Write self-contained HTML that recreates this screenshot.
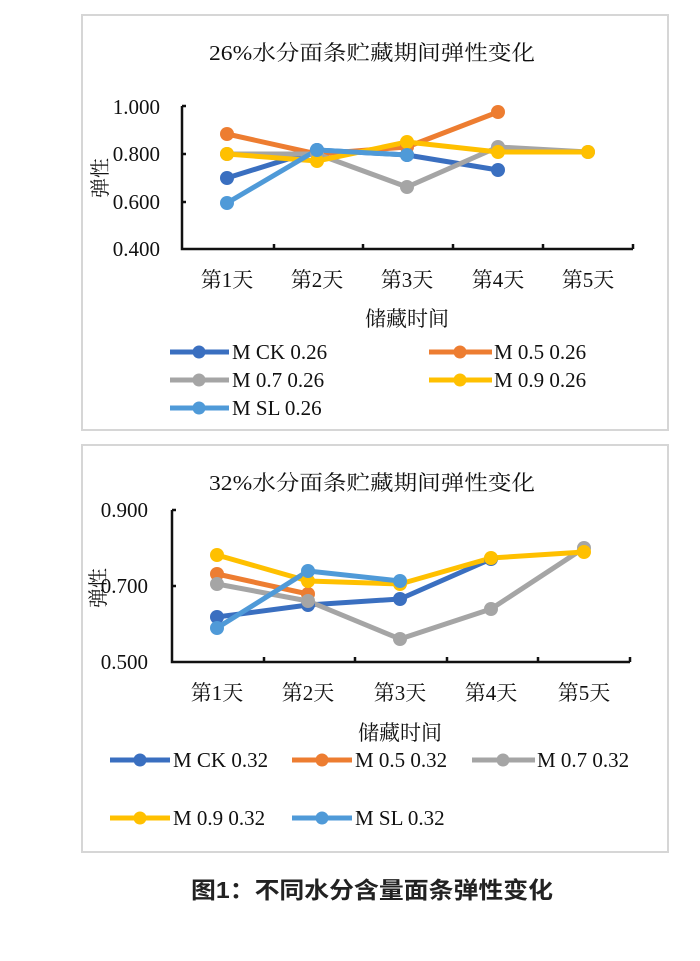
<!DOCTYPE html>
<html><head><meta charset="utf-8"><style>
html,body{margin:0;padding:0;background:#fff;}
svg{display:block}
.t{font-family:"Liberation Serif","Noto Serif CJK SC",serif;fill:#111}
</style></head><body>
<svg width="700" height="961" viewBox="0 0 700 961" xmlns="http://www.w3.org/2000/svg">
<rect x="82" y="15" width="586" height="415" fill="#fff" stroke="#d6d6d6" stroke-width="2"/>
<rect x="82" y="445" width="586" height="407" fill="#fff" stroke="#d6d6d6" stroke-width="2"/>

<!-- Chart 1 -->
<text class="t" x="372" y="60" font-size="21" text-anchor="middle" textLength="326" lengthAdjust="spacingAndGlyphs">26%水分面条贮藏期间弹性变化</text>
<g class="t" font-size="21" text-anchor="end">
<text x="160" y="114">1.000</text><text x="160" y="161">0.800</text><text x="160" y="209">0.600</text><text x="160" y="256">0.400</text>
</g>
<text class="t" font-size="20" transform="translate(107,178) rotate(-90)" text-anchor="middle">弹性</text>
<g stroke="#111" stroke-width="2.5" fill="none">
<path d="M182 106V249H633"/>
<path d="M182 106h4M182 154h4M182 202h4M274 249v-5M363 249v-5M453 249v-5M543 249v-5M633 249v-5"/>
</g>
<g class="t" font-size="21" text-anchor="middle">
<text x="227" y="287">第1天</text><text x="317" y="287">第2天</text><text x="407" y="287">第3天</text><text x="498" y="287">第4天</text><text x="588" y="287">第5天</text>
<text x="407" y="326">储藏时间</text>
</g>
<g stroke-width="5" fill="none" stroke-linejoin="round">
<path d="M227 178L317 150L407 155L498 170" stroke="#3a6fc0"/>
<path d="M227 134L317 154L407 147L498 112" stroke="#ed7d31"/>
<path d="M227 154L317 154L407 187L498 147L588 152" stroke="#a5a5a5"/>
<path d="M227 154L317 161L407 142L498 152L588 152" stroke="#ffc000"/>
<path d="M227 203L317 150L407 155" stroke="#4f9ad8"/>
</g>
<g>
<g fill="#3a6fc0"><circle cx="227" cy="178" r="7"/><circle cx="317" cy="150" r="7"/><circle cx="407" cy="155" r="7"/><circle cx="498" cy="170" r="7"/></g>
<g fill="#ed7d31"><circle cx="227" cy="134" r="7"/><circle cx="317" cy="154" r="7"/><circle cx="407" cy="147" r="7"/><circle cx="498" cy="112" r="7"/></g>
<g fill="#a5a5a5"><circle cx="227" cy="154" r="7"/><circle cx="317" cy="154" r="7"/><circle cx="407" cy="187" r="7"/><circle cx="498" cy="147" r="7"/><circle cx="588" cy="152" r="7"/></g>
<g fill="#ffc000"><circle cx="227" cy="154" r="7"/><circle cx="317" cy="161" r="7"/><circle cx="407" cy="142" r="7"/><circle cx="498" cy="152" r="7"/><circle cx="588" cy="152" r="7"/></g>
<g fill="#4f9ad8"><circle cx="227" cy="203" r="7"/><circle cx="317" cy="150" r="7"/><circle cx="407" cy="155" r="7"/></g>
</g>
<!-- legend 1 -->
<g stroke-width="5">
<line x1="170" y1="352" x2="229" y2="352" stroke="#3a6fc0"/><circle cx="199" cy="352" r="6.5" fill="#3a6fc0"/>
<line x1="429" y1="352" x2="492" y2="352" stroke="#ed7d31"/><circle cx="460" cy="352" r="6.5" fill="#ed7d31"/>
<line x1="170" y1="380" x2="229" y2="380" stroke="#a5a5a5"/><circle cx="199" cy="380" r="6.5" fill="#a5a5a5"/>
<line x1="429" y1="380" x2="492" y2="380" stroke="#ffc000"/><circle cx="460" cy="380" r="6.5" fill="#ffc000"/>
<line x1="170" y1="408" x2="229" y2="408" stroke="#4f9ad8"/><circle cx="199" cy="408" r="6.5" fill="#4f9ad8"/>
</g>
<g class="t" font-size="21">
<text x="232" y="359">M CK 0.26</text><text x="494" y="359">M 0.5 0.26</text>
<text x="232" y="387">M 0.7 0.26</text><text x="494" y="387">M 0.9 0.26</text>
<text x="232" y="415">M SL 0.26</text>
</g>

<!-- Chart 2 -->
<text class="t" x="372" y="490" font-size="21" text-anchor="middle" textLength="326" lengthAdjust="spacingAndGlyphs">32%水分面条贮藏期间弹性变化</text>
<g class="t" font-size="21" text-anchor="end">
<text x="148" y="517">0.900</text><text x="148" y="593">0.700</text><text x="148" y="669">0.500</text>
</g>
<text class="t" font-size="20" transform="translate(105,588) rotate(-90)" text-anchor="middle">弹性</text>
<g stroke="#111" stroke-width="2.5" fill="none">
<path d="M172 510V662H630"/>
<path d="M172 510h4M172 586h4M264 662v-5M355 662v-5M447 662v-5M538 662v-5M630 662v-5"/>
</g>
<g class="t" font-size="21" text-anchor="middle">
<text x="217" y="700">第1天</text><text x="308" y="700">第2天</text><text x="400" y="700">第3天</text><text x="491" y="700">第4天</text><text x="584" y="700">第5天</text>
<text x="400" y="740">储藏时间</text>
</g>
<g stroke-width="5" fill="none" stroke-linejoin="round">
<path d="M217 617L308 605L400 599L491 559" stroke="#3a6fc0"/>
<path d="M217 574L308 594" stroke="#ed7d31"/>
<path d="M217 584L308 601L400 639L491 609L584 548" stroke="#a5a5a5"/>
<path d="M217 555L308 581L400 584L491 558L584 552" stroke="#ffc000"/>
<path d="M217 628L308 571L400 581" stroke="#4f9ad8"/>
</g>
<g>
<g fill="#3a6fc0"><circle cx="217" cy="617" r="7"/><circle cx="308" cy="605" r="7"/><circle cx="400" cy="599" r="7"/><circle cx="491" cy="559" r="7"/></g>
<g fill="#ed7d31"><circle cx="217" cy="574" r="7"/><circle cx="308" cy="594" r="7"/></g>
<g fill="#a5a5a5"><circle cx="217" cy="584" r="7"/><circle cx="308" cy="601" r="7"/><circle cx="400" cy="639" r="7"/><circle cx="491" cy="609" r="7"/><circle cx="584" cy="548" r="7"/></g>
<g fill="#ffc000"><circle cx="217" cy="555" r="7"/><circle cx="308" cy="581" r="7"/><circle cx="400" cy="584" r="7"/><circle cx="491" cy="558" r="7"/><circle cx="584" cy="552" r="7"/></g>
<g fill="#4f9ad8"><circle cx="217" cy="628" r="7"/><circle cx="308" cy="571" r="7"/><circle cx="400" cy="581" r="7"/></g>
</g>
<!-- legend 2 -->
<g stroke-width="5">
<line x1="110" y1="760" x2="170" y2="760" stroke="#3a6fc0"/><circle cx="140" cy="760" r="6.5" fill="#3a6fc0"/>
<line x1="292" y1="760" x2="352" y2="760" stroke="#ed7d31"/><circle cx="322" cy="760" r="6.5" fill="#ed7d31"/>
<line x1="472" y1="760" x2="535" y2="760" stroke="#a5a5a5"/><circle cx="503" cy="760" r="6.5" fill="#a5a5a5"/>
<line x1="110" y1="818" x2="170" y2="818" stroke="#ffc000"/><circle cx="140" cy="818" r="6.5" fill="#ffc000"/>
<line x1="292" y1="818" x2="352" y2="818" stroke="#4f9ad8"/><circle cx="322" cy="818" r="6.5" fill="#4f9ad8"/>
</g>
<g class="t" font-size="21">
<text x="173" y="767">M CK 0.32</text><text x="355" y="767">M 0.5 0.32</text><text x="537" y="767">M 0.7 0.32</text>
<text x="173" y="825">M 0.9 0.32</text><text x="355" y="825">M SL 0.32</text>
</g>

<text x="372" y="898" font-size="23" font-weight="bold" text-anchor="middle" fill="#222" font-family="'Liberation Sans','Noto Sans CJK SC',sans-serif" textLength="362" lengthAdjust="spacingAndGlyphs">图1：不同水分含量面条弹性变化</text>
</svg>
</body></html>
